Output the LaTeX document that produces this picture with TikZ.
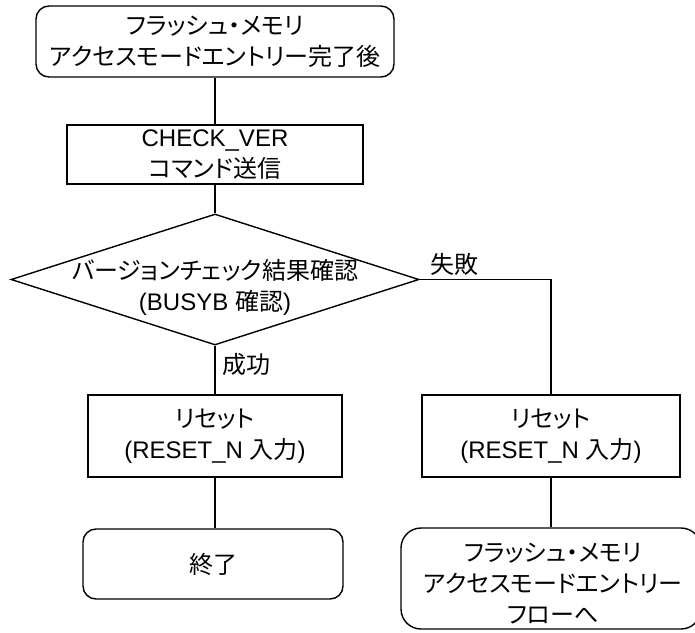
\documentclass[tikz,border=0pt]{standalone}
\usepackage{fontspec}
\setmainfont{Liberation Sans}
\newfontfamily\jpfont[RawFeature=+palt]{Noto Sans CJK JP}
\newcommand\J[1]{{\jpfont #1}}
\usetikzlibrary{shapes.geometric}
\begin{document}
\begin{tikzpicture}[x=1pt,y=-1pt,
  every node/.style={font=\fontsize{24}{31}\selectfont, align=center, inner sep=0pt},
  proc/.style={draw, line width=1.4pt, rectangle},
  term/.style={draw, line width=1.4pt, rectangle, rounded corners=13pt},
  dec/.style={draw, line width=1.4pt, diamond},
  conn/.style={line width=1.4pt}]
\useasboundingbox (0,0) rectangle (695,632);
\node[term, minimum width=358pt, minimum height=71pt] (start) at (215,41.5)
  {\J{フラッシュ・メモリ}\\\J{アクセスモードエントリー完了後}};
\node[proc, minimum width=296pt, minimum height=59pt] (b2) at (215,154.5)
  {CHECK\_VER\\\J{コマンド送信}};
\node[dec, minimum width=408pt, minimum height=131pt] (d) at (215,279.5) {};
\node (dt) at (215,287) {\J{バージョンチェック結果確認}\\(BUSYB \J{確認})};
\node[proc, minimum width=254pt, minimum height=82pt] (b3) at (215,436)
  {\J{リセット}\\(RESET\_N \J{入力})};
\node[proc, minimum width=258pt, minimum height=82pt] (b4) at (551,436)
  {\J{リセット}\\(RESET\_N \J{入力})};
\node[term, minimum width=260pt, minimum height=70pt] (b5) at (213,564) {\J{終了}};
\node[term, rounded corners=20pt, minimum width=300pt, minimum height=101pt] (b6) at (551,578.5) {};
\node (b6t) at (553,584)
  {\J{フラッシュ・メモリ}\\\J{アクセスモードエントリー}\\\J{フローへ}};
\node[anchor=west] (fail) at (430,264) {\J{失敗}};
\node[anchor=west] (ok) at (222,364) {\J{成功}};
\draw[conn] (start) -- (b2);
\draw[conn] (b2) -- (d);
\draw[conn] (d) -- (b3);
\draw[conn] (b3.south) -- (b3.south |- b5.north);
\draw[conn] (d.east) -| (b4.north);
\draw[conn] (b4) -- (b6);
\end{tikzpicture}
\end{document}
